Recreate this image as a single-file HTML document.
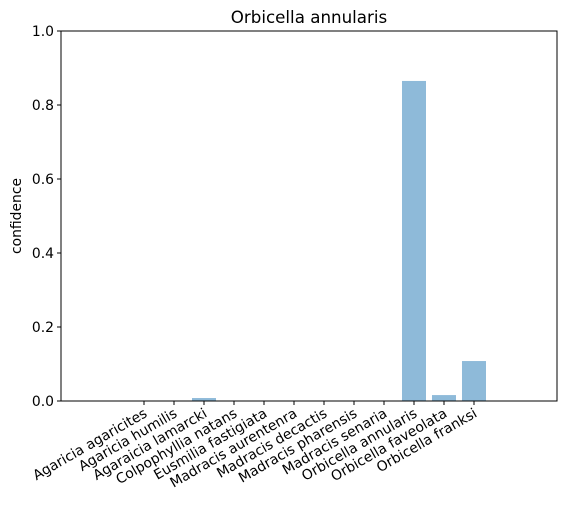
<!DOCTYPE html>
<html><head><meta charset="utf-8"><style>
body{margin:0;background:#fff;}
svg{display:block;font-family:"DejaVu Sans","Liberation Sans",sans-serif;}
</style></head><body>
<svg id="chart" width="567" height="505">
<text x="309" y="23" font-size="16.7" text-anchor="middle">Orbicella annularis</text>
<text transform="translate(21,216) rotate(-90)" font-size="13.9" text-anchor="middle">confidence</text>
<g id="marks"></g>
<rect x="61" y="31" width="496" height="370" fill="none" stroke="#000" stroke-width="1"/>
<g id="axes"></g>
</svg>
<script>
const categories=["Agaricia agaricites","Agaricia humilis","Agaraicia lamarcki","Colpophyllia natans","Eusmilia fastigiata","Madracis aurentenra","Madracis decactis","Madracis pharensis","Madracis senaria","Orbicella annularis","Orbicella faveolata","Orbicella franksi"];
const values=[0,0,0.008,0,0,0,0,0,0,0.865,0.016,0.108];
const yTicks=[0,0.2,0.4,0.6,0.8,1.0];
const yTickLabels=["0.0","0.2","0.4","0.6","0.8","1.0"];
const NS="http://www.w3.org/2000/svg";
const L=61,R=557,T=31,B=401;
const xmin=-2.767,xmax=13.767;
const xs=i=>L+(i-xmin)/(xmax-xmin)*(R-L);
const ys=v=>B-v*(B-T);
const marks=document.getElementById('marks'),axes=document.getElementById('axes');
function mk(tag,attrs,parent){const e=document.createElementNS(NS,tag);for(const k in attrs)e.setAttribute(k,attrs[k]);parent.appendChild(e);return e;}
const bw=0.8*(R-L)/(xmax-xmin);
categories.forEach((c,i)=>{
  const v=values[i];
  const r=mk('rect',{x:xs(i)-bw/2,y:ys(v),width:bw,height:B-ys(v),fill:'#8ebad9'},marks);
  
  
  const tk=mk('line',{x1:xs(i),x2:xs(i),y1:B,y2:B+4,stroke:'#000'},axes);
  
  
  const t=mk('text',{transform:`translate(${xs(i)+4},${B+15}) rotate(-30)`,'font-size':'13.9','text-anchor':'end'},axes);
  t.textContent=c;
  
  
});
yTicks.forEach((v,i)=>{
  const tk=mk('line',{x1:L-4,x2:L,y1:ys(v),y2:ys(v),stroke:'#000'},axes);
  
  
  const t=mk('text',{x:L-7,y:ys(v)+5,'font-size':'13.9','text-anchor':'end'},axes);
  t.textContent=yTickLabels[i];
  
  
});
</script>
</body></html>
